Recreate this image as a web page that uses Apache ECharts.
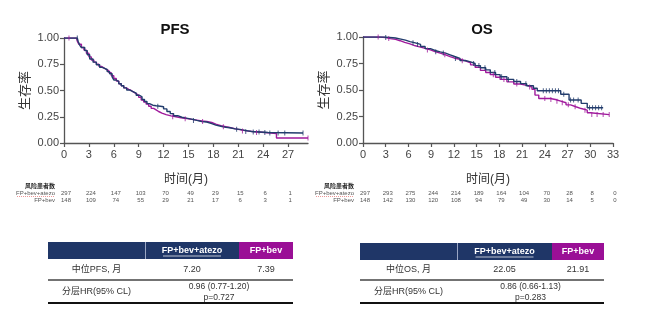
<!DOCTYPE html>
<html><head><meta charset="utf-8">
<script src="https://cdn.jsdelivr.net/npm/echarts@6/dist/echarts.min.js"></script>
<style>html,body{margin:0;padding:0;background:#fff}#c{width:650px;height:323px}</style>
</head><body><div id="c"></div>
<script>
// ---------- data ----------
const pfsTicks = [0,3,6,9,12,15,18,21,24,27];
const osTicks = [0,3,6,9,12,15,18,21,24,27,30,33];

// Kaplan-Meier step points [month, survival]
const pfsAtezo = [[0,1],[1.6,1],[1.7,0.97],[1.9,0.93],[2.1,0.91],[2.5,0.88],[2.8,0.84],[3.1,0.8],[3.5,0.77],[3.9,0.745],[4.3,0.72],[4.6,0.71],[4.9,0.7],[5.2,0.68],[5.5,0.66],[5.8,0.63],[6.0,0.6],[6.3,0.585],[6.6,0.565],[6.9,0.545],[7.2,0.525],[7.55,0.505],[7.9,0.49],[8.3,0.475],[8.7,0.455],[9.1,0.44],[9.4,0.415],[9.7,0.395],[10.0,0.375],[10.3,0.36],[10.7,0.355],[11.1,0.35],[11.6,0.345],[12.0,0.325],[12.4,0.3],[12.8,0.28],[13.2,0.26],[13.7,0.245],[14.2,0.235],[14.9,0.225],[15.5,0.215],[16.0,0.205],[16.6,0.2],[17.2,0.185],[17.8,0.17],[18.3,0.16],[18.9,0.15],[19.5,0.145],[20.0,0.135],[20.6,0.13],[21.2,0.12],[21.8,0.11],[22.6,0.105],[23.6,0.1],[24.6,0.095],[28.8,0.095]];
const pfsBev = [[0,1],[1.5,1],[1.6,0.97],[1.8,0.94],[2.1,0.91],[2.4,0.885],[2.7,0.855],[3.0,0.82],[3.3,0.79],[3.6,0.77],[3.9,0.75],[4.2,0.73],[4.5,0.715],[4.8,0.7],[5.1,0.69],[5.4,0.67],[5.7,0.64],[6.0,0.615],[6.3,0.59],[6.6,0.565],[6.9,0.545],[7.2,0.525],[7.5,0.51],[7.8,0.5],[8.1,0.485],[8.4,0.47],[8.7,0.455],[9.0,0.435],[9.3,0.41],[9.6,0.39],[9.9,0.37],[10.2,0.35],[10.5,0.33],[10.8,0.315],[11.1,0.3],[11.4,0.285],[11.8,0.27],[12.3,0.258],[12.9,0.25],[13.5,0.24],[14.1,0.232],[14.8,0.225],[15.4,0.218],[16.0,0.21],[16.6,0.205],[17.2,0.195],[17.8,0.18],[18.3,0.165],[18.9,0.155],[19.5,0.145],[20.1,0.135],[20.7,0.125],[21.3,0.115],[22.0,0.107],[23.0,0.1],[24.2,0.09],[25.6,0.047],[29.4,0.047]];

const osAtezo = [[0,1],[2,1],[2.8,0.995],[3.6,0.99],[4.3,0.98],[5,0.97],[5.6,0.957],[6.2,0.945],[6.9,0.93],[7.6,0.91],[8.2,0.89],[8.9,0.873],[9.5,0.86],[10.2,0.848],[10.9,0.832],[11.5,0.816],[12.1,0.798],[12.8,0.778],[13.5,0.765],[14.2,0.75],[14.8,0.73],[15.5,0.71],[16.2,0.69],[16.8,0.665],[17.5,0.645],[18.1,0.625],[19.0,0.6],[19.9,0.58],[20.8,0.56],[21.6,0.54],[22.5,0.516],[23.0,0.493],[26.1,0.46],[27.2,0.405],[28.8,0.374],[29.6,0.332],[31.7,0.332]];
const osBev = [[0,1],[1.5,1],[2.2,0.995],[3.0,0.985],[3.6,0.978],[4.3,0.965],[4.9,0.949],[5.5,0.935],[6.2,0.917],[6.9,0.905],[7.6,0.893],[8.2,0.878],[8.9,0.863],[9.5,0.848],[10.2,0.832],[10.9,0.815],[11.5,0.8],[12.1,0.79],[12.8,0.775],[13.5,0.757],[14.2,0.737],[14.8,0.715],[15.5,0.685],[16.2,0.665],[16.8,0.645],[17.5,0.62],[18.1,0.6],[19.0,0.577],[19.9,0.557],[20.8,0.543],[21.6,0.528],[22.3,0.507],[22.7,0.452],[23.2,0.42],[24.7,0.41],[25.4,0.395],[26.1,0.38],[26.8,0.36],[27.4,0.342],[28.1,0.325],[28.8,0.31],[29.6,0.285],[30.0,0.268],[32.5,0.268]];

// censoring times
const pfsAtezoCens = [1.6,11.3,15.6,20.8,21.9,22.8,23.5,24.2,24.8,25.8,26.6,28.8];
const pfsBevCens = [0.6,13.1,14.6,16.7,19.2,21.5,23.2,29.4];
const osAtezoCens = [3.0,6.6,7.2,9.6,10.6,12.2,14.6,15.3,16.1,17.4,18.3,19.2,20.3,21.5,23.8,24.2,24.6,25.0,25.4,25.8,26.5,27.4,27.8,28.4,29.9,30.3,30.7,31.1,31.5];
const osBevCens = [2.0,3.4,8.5,10.8,13.1,17.2,18.6,20.3,22.0,24.0,24.8,25.6,26.3,27.1,28.0,29.3,30.2,30.9,31.7,32.5];

// numbers at risk
const riskHeader = '风险患者数';
const armNames = ['FP+bev+atezo','FP+bev'];
const pfsRiskAtezo = [297,224,147,103,70,49,29,15,6,1];
const pfsRiskBev = [148,109,74,55,29,21,17,6,3,1];
const osRiskAtezo = [297,293,275,244,214,189,164,104,70,28,8,0];
const osRiskBev = [148,142,130,120,108,94,79,49,30,14,5,0];

// tables
const pfsRow1 = ['中位PFS, 月','7.20','7.39'];
const pfsRow2 = ['分层HR(95% CL)','0.96 (0.77-1.20)','p=0.727'];
const osRow1 = ['中位OS, 月','22.05','21.91'];
const osRow2 = ['分层HR(95% CL)','0.86 (0.66-1.13)','p=0.283'];
const titles = ['PFS','OS'];
const yName = '生存率';
const xName = '时间(月)';

// ---------- styles ----------
const NAVY = '#223c6c', PURPLE = '#a01a9c';
const HNAVY = '#1f3667', HPURPLE = '#9a0f96';
const FONT = '"Liberation Sans", Arial, "Noto Sans CJK SC", sans-serif';

function stepAt(curve, t){ let s = curve[0][1]; for (const p of curve){ if (p[0] <= t) s = p[1]; else break; } return s; }
function cens(curve, times){ return times.map(t => [t, stepAt(curve, t)]); }

const chart = echarts.init(document.getElementById('c'), null, {renderer:'canvas'});

function xAxis(gi, max, ticks){
  return {
    type:'value', gridIndex:gi, min:0, max:max, interval:3,
    name:xName, nameLocation:'middle', nameGap:31,
    nameTextStyle:{fontSize:12, color:'#333', fontFamily:FONT},
    axisLine:{lineStyle:{color:'#555', width:1.3}},
    axisTick:{show:true, length:4, customValues:ticks, lineStyle:{color:'#555', width:1.2}},
    axisLabel:{customValues:ticks, fontSize:11, color:'#444', margin:6, fontFamily:FONT},
    splitLine:{show:false}
  };
}
function yAxis(gi){
  return {
    type:'value', gridIndex:gi, min:0, max:1, interval:0.25,
    name:yName, nameLocation:'middle', nameGap:32,
    nameTextStyle:{fontSize:13, color:'#333', fontFamily:FONT},
    axisLine:{show:true, lineStyle:{color:'#555', width:1.3}},
    axisTick:{show:true, length:4, lineStyle:{color:'#555', width:1.2}},
    axisLabel:{fontSize:11, color:'#444', margin:5, fontFamily:FONT, formatter:v=>v.toFixed(2)},
    splitLine:{show:false}
  };
}
function line(name, data, color, xi){
  return {type:'line', name:name, xAxisIndex:xi, yAxisIndex:xi, data:data, step:'end',
    showSymbol:false, symbol:'none', lineStyle:{color:color, width:1.4}, z:3, silent:true, animation:false};
}
function marks(data, color, xi){
  return {type:'scatter', xAxisIndex:xi, yAxisIndex:xi, data:data, symbol:'rect', symbolSize:[1,5],
    itemStyle:{color:color}, z:4, silent:true, animation:false};
}

chart.setOption({
  animation:false,
  backgroundColor:'#fff',
  grid:[
    {left:64, top:38, width:244, height:105},
    {left:363, top:37, width:250, height:106}
  ],
  xAxis:[xAxis(0, 29.4, pfsTicks), xAxis(1, 33, osTicks)],
  yAxis:[yAxis(0), yAxis(1)],
  series:[
    line(armNames[1], pfsBev, PURPLE, 0),
    line(armNames[0], pfsAtezo, NAVY, 0),
    marks(cens(pfsBev, pfsBevCens), PURPLE, 0),
    marks(cens(pfsAtezo, pfsAtezoCens), NAVY, 0),
    line(armNames[1], osBev, PURPLE, 1),
    line(armNames[0], osAtezo, NAVY, 1),
    marks(cens(osBev, osBevCens), PURPLE, 1),
    marks(cens(osAtezo, osAtezoCens), NAVY, 1)
  ]
});

// ---------- graphics: titles, risk tables, summary tables ----------
const g = [];
function txt(x, y, s, o){
  o = o || {};
  g.push({type:'text', x:x, y:y, silent:true, style:{text:s, fontSize:o.size||9, fontWeight:o.bold?'bold':'normal',
    fill:o.color||'#333', fontFamily:FONT, align:o.align||'center', verticalAlign:'middle'}});
}
function rect(x, y, w, h, c){ g.push({type:'rect', silent:true, shape:{x:x, y:y, width:w, height:h}, style:{fill:c}}); }
function hline(x1, x2, y, c, w, dash){ g.push({type:'line', silent:true, shape:{x1:x1, y1:y, x2:x2, y2:y}, style:{stroke:c, lineWidth:w, lineDash:dash||null}}); }
function vline(x, y1, y2, c, w){ g.push({type:'line', silent:true, shape:{x1:x, y1:y1, x2:x, y2:y2}, style:{stroke:c, lineWidth:w}}); }

txt(175, 30, titles[0], {size:15, bold:true, color:'#111'});
txt(482, 30, titles[1], {size:15, bold:true, color:'#111'});

function riskTable(xi, ticks, r1, r2, labelRight){
  txt(labelRight, 186, riskHeader, {size:6, bold:true, color:'#222', align:'right'});
  txt(labelRight, 193.5, armNames[0], {size:6, color:'#555', align:'right'});
  hline(labelRight-38, labelRight, 196.5, '#e05050', 0.6, [1,1]);
  txt(labelRight, 200, armNames[1], {size:6, color:'#555', align:'right'});
  ticks.forEach((t, i) => {
    const px = chart.convertToPixel({xAxisIndex:xi}, t) + 2;
    txt(px, 193.5, String(r1[i]), {size:6, color:'#555'});
    txt(px, 200, String(r2[i]), {size:6, color:'#555'});
  });
}
riskTable(0, pfsTicks, pfsRiskAtezo, pfsRiskBev, 55);
riskTable(1, osTicks, osRiskAtezo, osRiskBev, 354);

function summary(x0, x1, x2, x3, yTop, row1, row2){
  rect(x0, yTop, x2-x0, 17, HNAVY);
  rect(x2, yTop, x3-x2, 17, HPURPLE);
  vline(x1+0.5, yTop, yTop+17, '#9aa6c4', 1);
  const c0 = (x0+x1)/2, c1 = (x1+x2)/2, c2 = (x2+x3)/2, c12 = (x1+x3)/2;
  const hy = yTop + 8.5;
  txt(c1, hy, armNames[0], {size:9, bold:true, color:'#fff'});
  hline(c1-29, c1+29, hy+5.5, '#fff', 0.7);
  txt(c2, hy, armNames[1], {size:9, bold:true, color:'#fff'});
  txt(c0, 270, row1[0], {size:9});
  txt(c1, 270, row1[1], {size:9});
  txt(c2, 270, row1[2], {size:9});
  hline(x0, x3, 280, '#444', 1.3);
  txt(c0, 292, row2[0], {size:9});
  txt(c12, 286.5, row2[1], {size:8.5});
  txt(c12, 297.5, row2[2], {size:8.5});
  hline(x0, x3, 303, '#111', 2);
}
summary(48, 145, 239, 293, 242, pfsRow1, pfsRow2);
summary(360, 457, 552, 604, 243, osRow1, osRow2);

chart.setOption({graphic:g});
</script></body></html>
